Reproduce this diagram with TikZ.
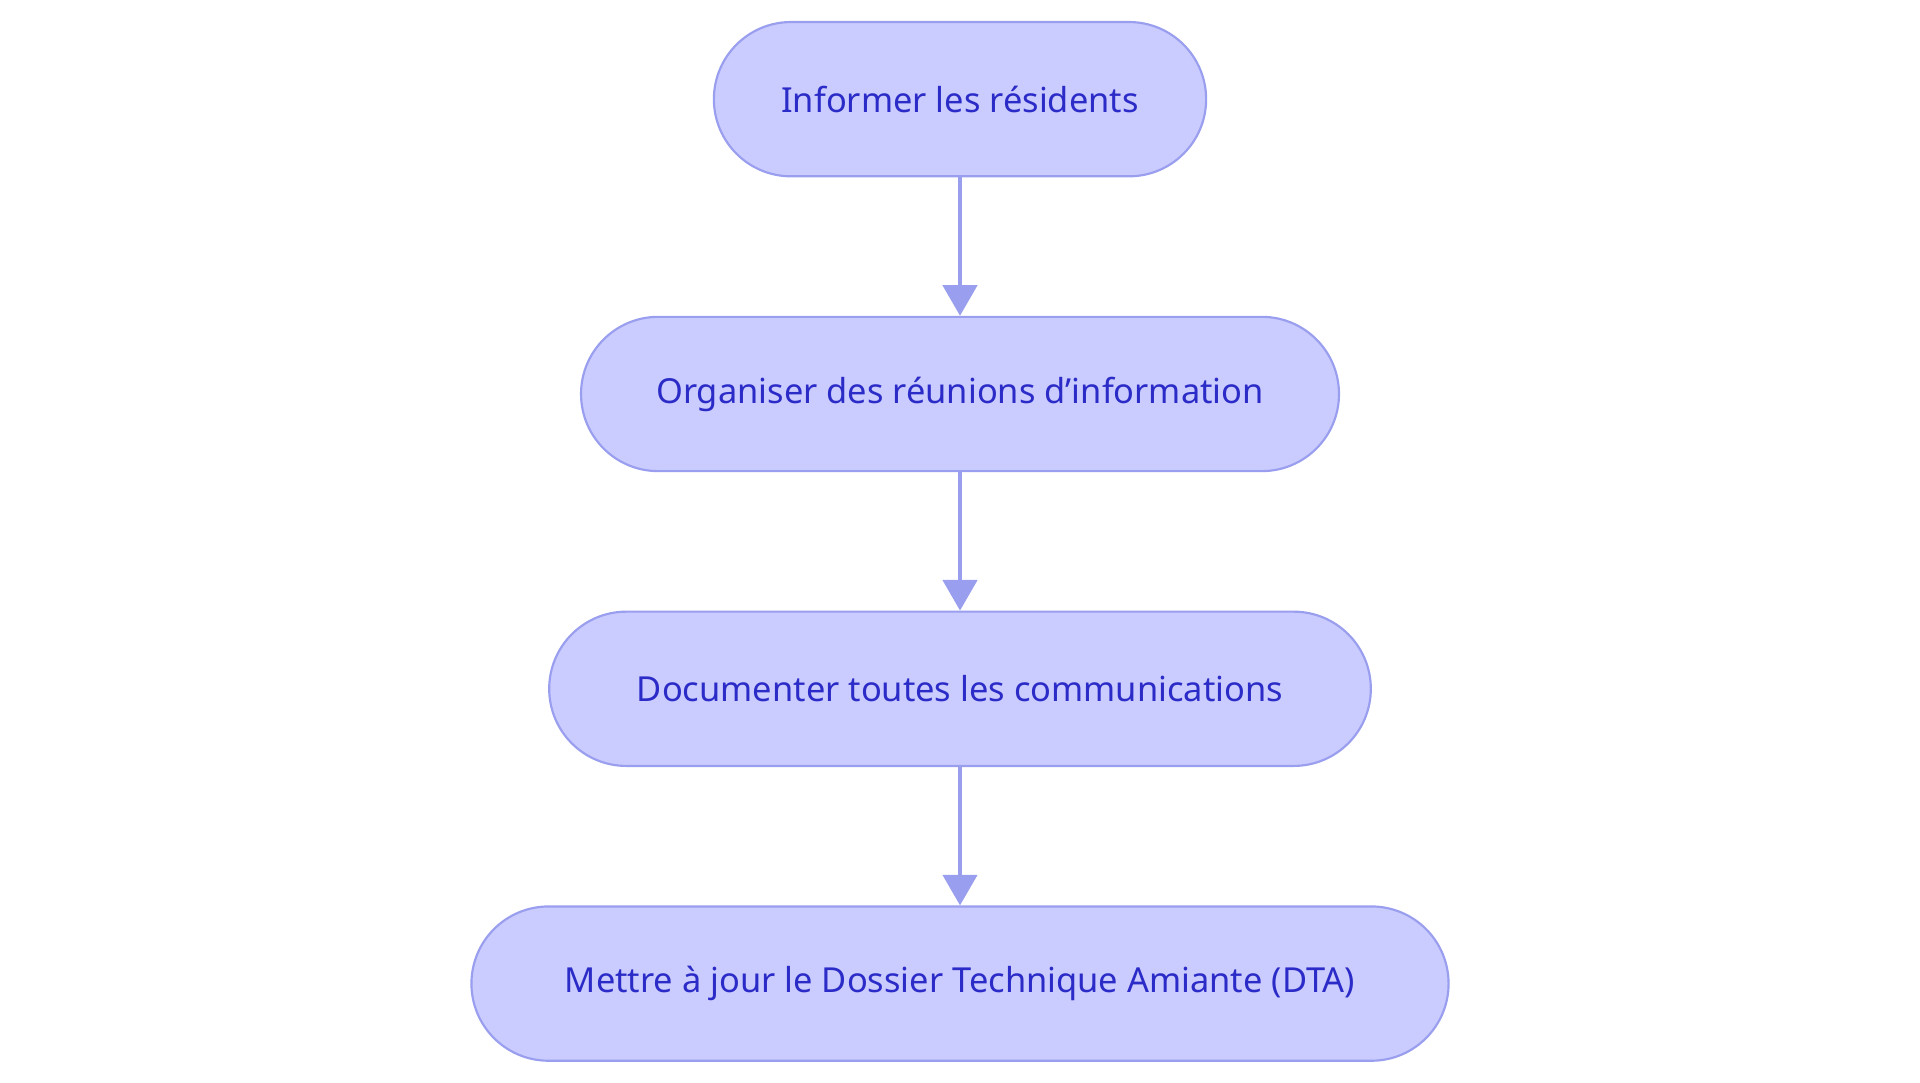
\documentclass[tikz,border=0pt]{standalone}
\usepackage{fontspec}
\setmainfont{Noto Sans}
\usetikzlibrary{positioning,arrows.meta}
\definecolor{boxfill}{HTML}{CACBFE}
\definecolor{boxline}{HTML}{9A9EEE}
\definecolor{boxtext}{HTML}{2B2BC8}
\tikzset{
  stage/.style={draw=boxline, fill=boxfill, line width=1pt, rounded corners=1.26cm,
    minimum height=2.52cm, text=boxtext, font=\fontsize{16}{19}\selectfont, inner xsep=0pt},
  flow/.style={draw=boxline, line width=1.8pt, -{Triangle[width=0.56cm,length=0.5cm]}}
}
\begin{document}
\begin{tikzpicture}[node distance=2.26cm]
\useasboundingbox (0,0) rectangle (31.36,-17.68);
\node [stage, minimum width=8.04cm] (inform) at (15.68,-1.62) {Informer les résidents};
\node [stage, minimum width=12.38cm, below=of inform] (reunion) {Organiser des réunions d'information};
\node [stage, minimum width=13.42cm, below=of reunion] (docum) {Documenter toutes les communications};
\node [stage, minimum width=15.96cm, below=of docum] (dta) {Mettre à jour le Dossier Technique Amiante (DTA)};
\draw [flow] (inform) -- (reunion);
\draw [flow] (reunion) -- (docum);
\draw [flow] (docum) -- (dta);
\end{tikzpicture}
\end{document}
